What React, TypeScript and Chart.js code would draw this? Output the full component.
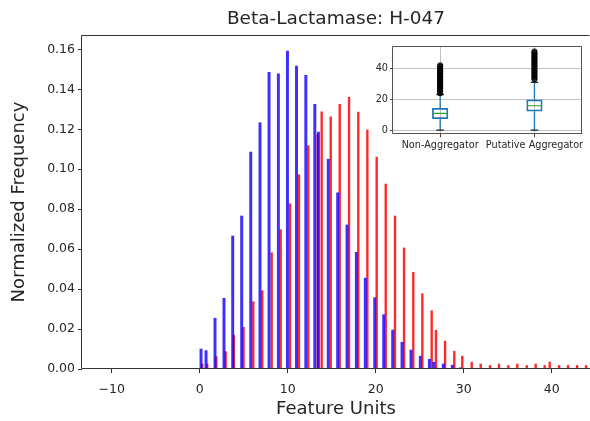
import React, { useEffect, useRef } from "react";
import { Chart, registerables } from "chart.js";

Chart.register(...registerables);

const FONT = "'DejaVu Sans', sans-serif";
const TEXT = "#262626";
const SPINE = "#333333";

// ---------- main histogram (bar centres in Feature Units, heights in Normalized Frequency)
const blueX = [0.15, 0.72, 1.74, 2.76, 3.75, 4.77, 5.8, 6.85, 7.88, 8.94, 9.97, 11.0, 12.06, 13.08, 13.49, 14.61, 15.68, 16.74, 17.8, 18.82, 19.89, 20.91, 21.93, 22.99, 24.01, 25.07, 26.1, 26.6, 27.68, 28.7, 29.63];
const blueY = [0.0100, 0.0092, 0.0254, 0.0354, 0.0666, 0.0766, 0.1086, 0.1233, 0.1485, 0.1478, 0.1592, 0.1517, 0.147, 0.1325, 0.1186, 0.105, 0.0882, 0.0721, 0.0584, 0.0455, 0.0357, 0.0272, 0.0195, 0.0134, 0.0095, 0.0064, 0.0049, 0.0034, 0.0025, 0.0019, 0.0006];
const redX = [0.3, 0.86, 1.89, 2.95, 3.88, 4.98, 6.09, 7.11, 8.18, 9.2, 10.26, 11.28, 12.34, 13.4, 13.86, 14.89, 15.91, 16.97, 18.02, 19.05, 20.11, 21.14, 22.19, 23.22, 24.27, 25.3, 26.36, 26.85, 27.88, 28.93, 29.84, 30.91, 31.93, 32.99, 34.01, 35.07, 36.09, 37.16, 38.18, 39.2, 39.77, 40.83, 41.85, 42.88, 43.9];
const redY = [0.0025, 0.0025, 0.0062, 0.0087, 0.017, 0.0209, 0.0337, 0.0392, 0.0582, 0.0697, 0.0827, 0.0972, 0.1118, 0.1175, 0.1288, 0.1262, 0.1325, 0.136, 0.1286, 0.1196, 0.1061, 0.0926, 0.0766, 0.0606, 0.0484, 0.0377, 0.0292, 0.0194, 0.014, 0.0089, 0.0064, 0.0034, 0.0025, 0.0018, 0.0025, 0.0018, 0.0025, 0.0018, 0.0025, 0.0018, 0.0035, 0.0018, 0.0018, 0.0018, 0.0018];
const xTicks = [-10, 0, 10, 20, 30, 40];
const yTicks = [0, 0.02, 0.04, 0.06, 0.08, 0.1, 0.12, 0.14, 0.16];

// ---------- inset box plot
const boxCategories = ["Non-Aggregator", "Putative Aggregator"];
const boxQ1 = [7.5, 12.3];
const boxMedian = [10.9, 15.8];
const boxQ3 = [14.2, 19.6];
const whiskerLow = [0, 0];
const whiskerHigh = [23, 31];
const fliersNonAgg = [24, 25, 26, 27, 28, 29, 30, 31, 32, 33, 34, 35, 36, 37, 38, 39, 40, 41, 42];
const fliersPutative = [33, 34, 35, 36, 37, 38, 39, 40, 41, 42, 43, 44, 45, 46, 47, 48, 49, 50, 51];
const insetYTicks = [0, 20, 40];

const framePlugin = {
  id: "frame",
  afterDraw(chart: any, _args: any, opts: any) {
    const { ctx, chartArea: a } = chart;
    const sides: string[] = opts.sides || [];
    ctx.save();
    ctx.strokeStyle = opts.color || SPINE;
    ctx.lineWidth = opts.width || 1;
    ctx.beginPath();
    const l = Math.round(a.left) - 0.5;
    const r = Math.round(a.right) - 0.5;
    const t = Math.round(a.top) + 0.5;
    const b = Math.round(a.bottom) - 0.5;
    if (sides.includes("left")) { ctx.moveTo(l, t); ctx.lineTo(l, b); }
    if (sides.includes("right")) { ctx.moveTo(r, t); ctx.lineTo(r, b); }
    if (sides.includes("top")) { ctx.moveTo(l, t); ctx.lineTo(r, t); }
    if (sides.includes("bottom")) { ctx.moveTo(l, b); ctx.lineTo(r + 1, b); }
    ctx.stroke();
    ctx.restore();
  },
};

const minusFmt = (v: number) => (v < 0 ? "\u2212" + Math.abs(v) : String(v));

function MainChart() {
  const ref = useRef<HTMLCanvasElement>(null);
  useEffect(() => {
    const chart = new Chart(ref.current!, {
      type: "bar",
      data: {
        datasets: [
          {
            label: "Non-Aggregator",
            data: blueX.map((x, i) => ({ x, y: blueY[i] })),
            backgroundColor: "rgba(20,0,255,0.82)",
            borderWidth: 0,
            barThickness: 2.3,
            grouped: false,
          } as any,
          {
            label: "Putative Aggregator",
            data: redX.map((x, i) => ({ x, y: redY[i] })),
            backgroundColor: "rgba(255,10,10,0.88)",
            borderWidth: 0,
            barThickness: 1.7,
            grouped: false,
          } as any,
        ],
      },
      options: {
        animation: false,
        responsive: true,
        maintainAspectRatio: false,
        layout: { padding: 0 },
        plugins: {
          legend: { display: false },
          tooltip: { enabled: false },
          title: {
            display: true,
            text: "Beta-Lactamase: H-047",
            fullSize: false,
            color: TEXT,
            font: { family: FONT, size: 18.5, weight: "normal", lineHeight: 1.2 },
            padding: { top: 7.9, bottom: 4.9 },
          },
          frame: { sides: ["left", "top", "bottom"], color: SPINE, width: 1 },
        } as any,
        scales: {
          x: {
            type: "linear",
            min: -13.375,
            max: 44.35,
            offset: false,
            afterBuildTicks: (axis: any) => { axis.ticks = xTicks.map((v) => ({ value: v })); },
            afterFit: (s: any) => { s.height = 52; },
            grid: { display: true, offset: false, drawOnChartArea: false, drawTicks: true, tickLength: 4, tickColor: SPINE, color: SPINE },
            border: { display: false },
            ticks: {
              color: TEXT,
              font: { family: FONT, size: 12.5 },
              padding: 9,
              maxRotation: 0,
              autoSkip: false,
              includeBounds: false,
              callback: (v: any) => minusFmt(Number(v)),
            },
            title: {
              display: true,
              text: "Feature Units",
              color: TEXT,
              font: { family: FONT, size: 18 },
              padding: { top: 1, bottom: 1 },
            },
          },
          y: {
            type: "linear",
            min: 0,
            max: 0.1672,
            afterBuildTicks: (axis: any) => { axis.ticks = yTicks.map((v) => ({ value: v })); },
            afterFit: (s: any) => { s.width = 82; },
            grid: { display: true, offset: false, drawOnChartArea: false, drawTicks: true, tickLength: 4, tickColor: SPINE, color: SPINE },
            border: { display: false },
            ticks: {
              color: TEXT,
              font: { family: FONT, size: 12.5 },
              padding: 3,
              includeBounds: false,
              callback: (v: any) => Number(v).toFixed(2),
            },
            title: {
              display: true,
              text: "Normalized Frequency",
              color: TEXT,
              font: { family: FONT, size: 18 },
              padding: { top: 9, bottom: 9 },
            },
          },
        },
      },
      plugins: [framePlugin],
    });
    return () => chart.destroy();
  }, []);
  return <canvas ref={ref} />;
}

function InsetChart() {
  const ref = useRef<HTMLCanvasElement>(null);
  useEffect(() => {
    const pos = boxCategories.map((_, i) => i + 1);
    const whiskerSets = pos.flatMap((p, i) => [
      { type: "line", data: [{ x: p, y: boxQ3[i] }, { x: p, y: whiskerHigh[i] }] },
      { type: "line", data: [{ x: p, y: boxQ1[i] }, { x: p, y: whiskerLow[i] }] },
    ]).map((d) => ({ ...d, borderColor: "#1f77b4", borderWidth: 1.3, pointRadius: 0, fill: false }));
    const chart = new Chart(ref.current!, {
      type: "bar",
      data: {
        datasets: [
          {
            type: "scatter",
            data: [
              ...fliersNonAgg.map((y) => ({ x: pos[0], y })),
              ...fliersPutative.map((y) => ({ x: pos[1], y })),
            ],
            pointStyle: "circle",
            pointRadius: 2.6,
            borderColor: "#000",
            backgroundColor: "rgba(0,0,0,0.55)",
            borderWidth: 1,
          },
          {
            type: "scatter",
            data: [
              ...pos.map((p, i) => ({ x: p, y: whiskerLow[i] })),
              ...pos.map((p, i) => ({ x: p, y: whiskerHigh[i] })),
            ],
            pointStyle: "line",
            pointRadius: 3.8,
            borderColor: "#222",
            borderWidth: 1.2,
          },
          {
            type: "scatter",
            data: pos.map((p, i) => ({ x: p, y: boxMedian[i] })),
            pointStyle: "line",
            pointRadius: 7.2,
            borderColor: "#2ca02c",
            borderWidth: 1.2,
          },
          {
            type: "bar",
            data: pos.map((p, i) => ({ x: p, y: [boxQ1[i], boxQ3[i]] })),
            backgroundColor: "rgba(255,255,255,0)",
            borderColor: "#1f77b4",
            borderWidth: 1.1,
            borderSkipped: false,
            barThickness: 15.5,
            grouped: false,
          },
          ...whiskerSets,
        ] as any,
      },
      options: {
        animation: false,
        responsive: true,
        maintainAspectRatio: false,
        layout: { padding: { top: 7, right: 5.3, left: 0, bottom: 0 } },
        plugins: {
          legend: { display: false },
          tooltip: { enabled: false },
          frame: { sides: ["left", "right", "top", "bottom"], color: "#555", width: 1 },
        } as any,
        scales: {
          x: {
            type: "linear",
            min: 0.5,
            max: 2.5,
            offset: false,
            afterBuildTicks: (axis: any) => { axis.ticks = pos.map((v) => ({ value: v })); },
            afterFit: (s: any) => { s.height = 25.7; },
            grid: { display: true, offset: false, drawOnChartArea: true, color: "#c2c2c2", lineWidth: 1, tickLength: 3, tickColor: "#444" },
            border: { display: false },
            ticks: {
              color: TEXT,
              font: { family: FONT, size: 9.7 },
              padding: 2,
              maxRotation: 0,
              minRotation: 0,
              autoSkip: false,
              includeBounds: false,
              callback: (v: any) => boxCategories[Math.round(Number(v)) - 1] ?? "",
            },
          },
          y: {
            type: "linear",
            min: -2.7,
            max: 54.3,
            afterBuildTicks: (axis: any) => { axis.ticks = insetYTicks.map((v) => ({ value: v })); },
            afterFit: (s: any) => { s.width = 33; },
            grid: { display: true, offset: false, drawOnChartArea: true, color: "#c2c2c2", lineWidth: 1, tickLength: 3, tickColor: "#444" },
            border: { display: false },
            ticks: {
              color: TEXT,
              font: { family: FONT, size: 9.7 },
              padding: 2,
              includeBounds: false,
              callback: (v: any) => String(v),
            },
          },
        },
      },
      plugins: [framePlugin],
    });
    return () => chart.destroy();
  }, []);
  return <canvas ref={ref} />;
}

export default function App() {
  return (
    <div style={{ position: "absolute", left: 0, top: 0, width: 590, height: 421, background: "#fff", overflow: "hidden" }}>
      <div style={{ position: "absolute", left: 0, top: 0, width: 590, height: 421 }}>
        <MainChart />
      </div>
      <div style={{ position: "absolute", left: 360, top: 38, width: 230, height: 122 }}>
        <InsetChart />
      </div>
    </div>
  );
}
